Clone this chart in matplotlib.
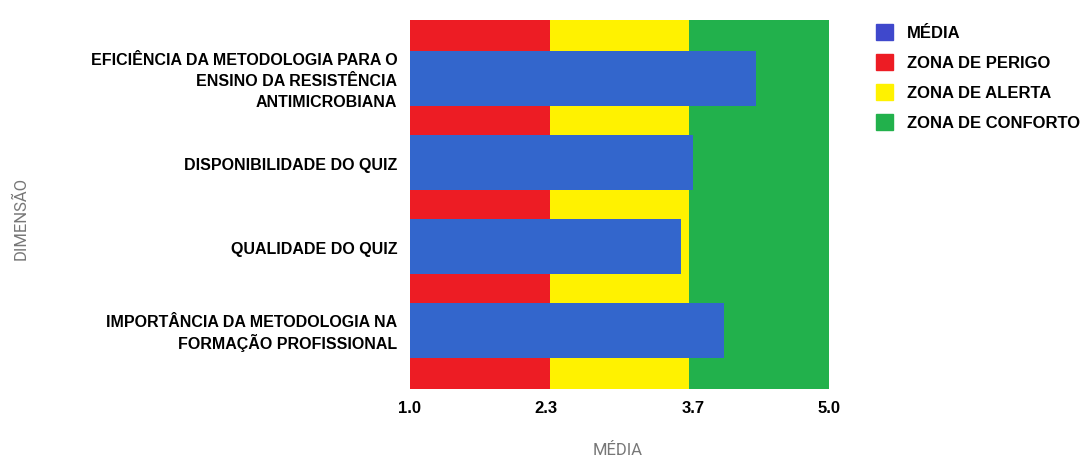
import matplotlib.pyplot as plt
import matplotlib.transforms as mtransforms
from matplotlib.patches import Patch

# Dimensões avaliadas e média obtida em cada uma
dimensoes = [
    'EFICIÊNCIA DA METODOLOGIA PARA O\nENSINO DA RESISTÊNCIA\nANTIMICROBIANA',
    'DISPONIBILIDADE DO QUIZ',
    'QUALIDADE DO QUIZ',
    'IMPORTÂNCIA DA METODOLOGIA NA\nFORMAÇÃO PROFISSIONAL',
]
medias = [4.30, 3.70, 3.59, 4.00]

# Limites das zonas da escala (1 a 5)
limites_zonas = [1.0, 1.0 + 4 / 3, 1.0 + 8 / 3, 5.0]
nomes_zonas = ['ZONA DE PERIGO', 'ZONA DE ALERTA', 'ZONA DE CONFORTO']
ticks_x = [1.0, 2.3, 3.7, 5.0]
ticks_x_labels = ['1.0', '2.3', '3.7', '5.0']

cor_barra = '#3366CC'
cor_legenda_media = '#3F48CC'
cores_zonas = ['#ED1C24', '#FFF200', '#22B14C']

plt.rcParams['font.family'] = ['Liberation Sans', 'DejaVu Sans']

fig = plt.figure(figsize=(10.88, 4.57), dpi=100)
ax = fig.add_axes([0.3768, 0.1488, 0.3852, 0.8075])

# Faixas de fundo com as zonas
for i in range(3):
    ax.axvspan(limites_zonas[i], limites_zonas[i + 1], color=cores_zonas[i], lw=0, zorder=0)

# Barras com a média de cada dimensão
pos = list(range(len(dimensoes)))
ax.barh(pos, [m - 1.0 for m in medias], left=1.0, height=0.655, color=cor_barra, zorder=2)

ax.set_xlim(1.0, 5.0)
ax.set_ylim(3.7, -0.7)
ax.set_xticks(ticks_x)
ax.set_xticklabels(ticks_x_labels, fontsize=12, fontweight='bold')
ax.set_yticks(pos)
ax.set_yticklabels([])
ax.tick_params(length=0, pad=9)
for s in ax.spines.values():
    s.set_visible(False)

# Rótulos das dimensões, uma linha de cada vez para manter o espaçamento fixo
passo = 14.8  # pontos entre linhas
for p, rotulo in zip(pos, dimensoes):
    linhas = rotulo.split('\n')
    n = len(linhas)
    for k, linha in enumerate(linhas):
        desloc = mtransforms.ScaledTranslation(
            -9 / 72, (-(k - (n - 1) / 2) * passo - 2.0) / 72, fig.dpi_scale_trans)
        ax.text(0, p, linha, transform=ax.get_yaxis_transform() + desloc,
                ha='right', va='center', fontsize=11.5, fontweight='bold')

fig.text(0.568, 0.015, 'MÉDIA', fontsize=12, color='#777777', family='Roboto',
         ha='center', va='center')
fig.text(0.0195, 0.522, 'DIMENSÃO', rotation=90, fontsize=12, color='#777777',
         family='Roboto', ha='center', va='center')

# Legenda
handles = [Patch(color=cor_legenda_media, label='MÉDIA')]
for c, n in zip(cores_zonas, nomes_zonas):
    handles.append(Patch(color=c, label=n))
fig.legend(handles=handles, loc='upper left', bbox_to_anchor=(0.791, 0.98),
           frameon=False, prop={'weight': 'bold', 'size': 12},
           handlelength=1.05, handleheight=1.05, labelspacing=0.82, handletextpad=0.85)

fig.savefig('out.png', dpi=100)
